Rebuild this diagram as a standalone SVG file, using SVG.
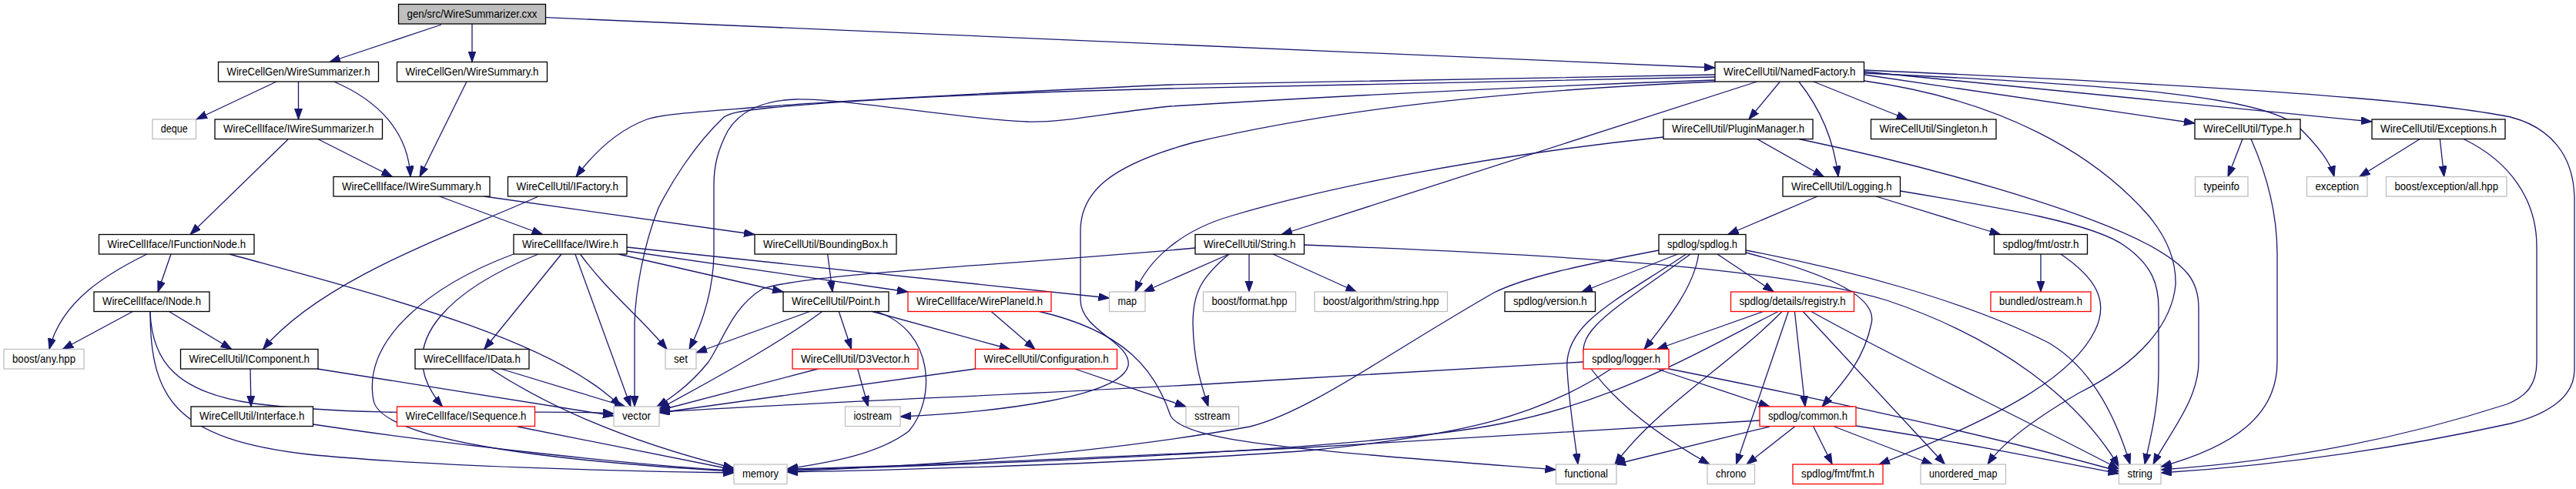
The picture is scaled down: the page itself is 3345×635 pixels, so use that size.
<svg xmlns="http://www.w3.org/2000/svg" width="3345" height="635" viewBox="0 0 3345 635">
<style>
rect{fill:#fff;stroke-width:1.3}
.n rect{stroke:#000}
.g rect{stroke:#bfbfbf}
.r rect{stroke:#ff0000}
.root rect{fill:#bfbfbf;stroke:#000}
text{font-family:"Liberation Sans",Arial,Helvetica,sans-serif;font-size:14.5px;text-anchor:middle;fill:#000}
#edges path{fill:none;stroke:#191970;stroke-width:1.3;marker-end:url(#a)}
</style>
<defs>
<marker id="a" markerUnits="userSpaceOnUse" markerWidth="15" markerHeight="11" refX="14" refY="5" orient="auto">
<path d="M0,0 L14,5 L0,10 z" fill="#191970" stroke="#191970" stroke-width="1"/>
</marker>
</defs>
<rect x="0" y="0" width="3345" height="635" style="fill:#fff;stroke:none"/>
<g id="edges">
<path d="M573,32 L428,80.5"/>
<path d="M613,31 L613,80.5"/>
<path d="M708.5,22.7 L2227,88"/>
<path d="M359,106 L255,155"/>
<path d="M387.5,106 L387.5,155"/>
<path d="M433.6,106 C490,130 530,170 533,229.5"/>
<path d="M606,106 L545,229.5"/>
<path d="M374,181 L247,304.5"/>
<path d="M413.6,181 L509.5,229.5"/>
<path d="M570.7,255 L704.6,304.5"/>
<path d="M628.7,255 L980,304.5"/>
<path d="M699.2,255 C600,300 420,360 341.5,453.5"/>
<path d="M190.8,330 C140,355 80,390 64,453.5"/>
<path d="M222,330 L205,379"/>
<path d="M298,330 C480,380 720,440 806,528"/>
<path d="M172.4,404.5 L81.3,453.5"/>
<path d="M219.5,404.5 L300.8,453.5"/>
<path d="M195,404.5 C197,470 230,510 330,524 C500,545 700,530 797,537"/>
<path d="M195,404.5 C195,520 230,570 400,590 C550,605 800,612 953,614"/>
<path d="M325,479 L326,528"/>
<path d="M412,479 L797,540"/>
<path d="M406.5,551 C600,580 850,606 953,611"/>
<path d="M650.4,479 L812,528"/>
<path d="M636.9,479 C700,520 800,570 953,608"/>
<path d="M672,554 L953,610"/>
<path d="M699,330 C600,370 500,440 574.5,528"/>
<path d="M729,330 L628.7,453.5"/>
<path d="M746.9,330 L819,528"/>
<path d="M666.7,330 C560,370 470,440 485,520 C495,570 700,598 953,612"/>
<path d="M753.4,330 C790,380 830,410 866,453.5"/>
<path d="M803,330 L1017,379"/>
<path d="M814,326 L1179,379"/>
<path d="M814,321 L1440.5,387"/>
<path d="M1074.7,330 L1081,379"/>
<path d="M1051.4,404.5 L904,458"/>
<path d="M1067.6,404.5 C1020,440 950,480 856,531"/>
<path d="M1089.3,404.5 L1105.6,453.5"/>
<path d="M1132.7,404.5 L1311.5,453.5"/>
<path d="M1138,404.5 C1215,430 1215,520 1180,560 C1140,590 1080,600 1022,609"/>
<path d="M1287.2,404.5 L1344,453.5"/>
<path d="M1349.5,404.5 C1460,430 1500,480 1520,540 C1540,575 1700,585 2020.5,610"/>
<path d="M1062.2,479 L856,533"/>
<path d="M1113.7,479 L1127.3,528"/>
<path d="M1266.6,479 L856,536"/>
<path d="M1395.5,479 L1540,528"/>
<path d="M2227,97 L1520,110 C1300,120 1100,130 1000,138 C900,146 860,148 840,155 C800,170 770,200 748,229.5"/>
<path d="M2227,104 C1900,115 1650,130 1520,138 C1440,146 1380,160 1333,158 C1250,155 1100,128 1034,129 C990,130 960,145 945,170 C932,195 927,215 927,240 L927,330 C926,380 912,420 895,453.5"/>
<path d="M2227,100 L1520,115 C1300,120 1100,130 1000,140 C960,144 948,147 940,152 C900,190 870,240 855,270 C835,320 825,380 824,420 L824,528"/>
<path d="M2227,106 C1900,120 1700,150 1550,185 C1440,215 1403,250 1403,300 L1403,390 C1404,430 1470,445 1465,475 C1455,515 1300,535 1169,541"/>
<path d="M2281.6,106 L1664,304.5"/>
<path d="M2160,178 C1900,205 1700,250 1600,280 C1530,300 1490,340 1474,379"/>
<path d="M2311.4,106 L2270.8,155"/>
<path d="M2335.8,106 C2355,130 2380,170 2387,229.5"/>
<path d="M2354.8,106 L2476.7,155"/>
<path d="M2281.6,180.5 L2368.3,229.5"/>
<path d="M2336,180.5 C2500,215 2700,270 2790,318 C2840,345 2855,365 2855,400 L2855,470 C2855,520 2815,565 2796,603"/>
<path d="M2467.5,248 C2600,270 2720,290 2760,320 C2795,345 2803,370 2803,400 L2803,480 C2803,530 2792,570 2785,603"/>
<path d="M2420.5,105 C2600,130 2720,200 2790,280 C2815,310 2826,340 2825,370 C2820,420 2780,470 2700,510 C2640,545 2600,575 2581,603"/>
<path d="M2420.5,91 C2900,112 3150,130 3260,152 C3310,165 3343,200 3343,260 L3343,480 C3343,520 3300,540 3260,550 C3100,585 2950,605 2806,614"/>
<path d="M2420.5,97 L2850,160"/>
<path d="M2420.5,93 L3080,158"/>
<path d="M2420.5,95 C2750,110 2940,125 2985,165 C3010,190 3026,210 3031,229.5"/>
<path d="M2912,180.5 L2893,229.5"/>
<path d="M2923,180.5 C2945,230 2957,280 2957,330 L2957,470 C2957,540 2900,580 2806,606"/>
<path d="M3142.3,180.5 L3063.7,229.5"/>
<path d="M3168.3,180.5 L3173.7,229.5"/>
<path d="M3199,180.5 C3260,210 3294,260 3294,320 L3294,470 C3294,500 3280,515 3255,525 C3100,575 2950,600 2806,610"/>
<path d="M2360,255 L2243.7,304.5"/>
<path d="M2436,255 L2597.6,304.5"/>
<path d="M2650,330 L2650,379"/>
<path d="M2676,330 C2720,360 2740,390 2720,430 C2690,490 2600,540 2440,603"/>
<path d="M2154,325 C2050,345 1980,360 1940,380 C1800,460 1700,535 1623,554 C1450,585 1250,603 1022,612"/>
<path d="M2178.6,330 L2054,379"/>
<path d="M2189.5,330 C2100,390 2030,420 2035,480 C2038,530 2045,570 2049,603"/>
<path d="M2195,330 C2100,400 2040,430 2060,470 C2100,530 2170,575 2220,603"/>
<path d="M2205.7,330 C2200,370 2170,410 2135,453.5"/>
<path d="M2230,330 L2303.3,379"/>
<path d="M2267,328 C2350,350 2440,380 2430,420 C2420,470 2390,500 2366,528"/>
<path d="M2267,325 C2400,350 2550,390 2660,445 C2720,480 2750,550 2766,603"/>
<path d="M1552,322 C1300,345 1050,355 990,375 C950,400 940,440 920,470 C900,495 880,512 853,528"/>
<path d="M1596,330 L1485,379"/>
<path d="M1622,330 L1622,379"/>
<path d="M1596,330 C1560,360 1549,380 1549,420 C1550,470 1560,500 1569,528"/>
<path d="M1653,330 L1761.3,379"/>
<path d="M1693.5,318 C2000,330 2300,345 2450,390 C2600,440 2700,520 2751.5,606"/>
<path d="M2289.8,404.5 L2151.5,453.5"/>
<path d="M2309,404.5 C2200,460 2100,520 1950,550 C1800,580 1400,600 1022,610"/>
<path d="M2314,404.5 C2250,470 2150,530 2097,603"/>
<path d="M2322.3,404.5 L2254.5,603"/>
<path d="M2330.4,404.5 L2344,528"/>
<path d="M2341.2,404.5 L2525.5,603"/>
<path d="M2352,404.5 C2450,460 2600,530 2751.5,609"/>
<path d="M2056,470 L1680,492 C1400,510 1100,520 856,535"/>
<path d="M2092,479 C2000,540 1900,565 1700,585 C1500,600 1200,610 1022,613"/>
<path d="M2151.5,479 L2297.9,528"/>
<path d="M2167,479 C2400,525 2600,570 2751.5,612"/>
<path d="M2285,546 L1680,582 C1400,595 1200,605 1022,609"/>
<path d="M2297.9,554 L2097,603"/>
<path d="M2330.4,554 L2268,603"/>
<path d="M2354.8,554 L2379.2,603"/>
<path d="M2381.9,554 L2509.3,603"/>
<path d="M2410,553 C2550,575 2650,595 2751.5,615"/>
</g>
<g id="n0" class="root"><rect x="517.5" y="5.5" width="191" height="25.5"/><text x="613" y="22.5" textLength="169" lengthAdjust="spacingAndGlyphs">gen/src/WireSummarizer.cxx</text></g>
<g id="n1" class="n"><rect x="283.5" y="80.5" width="208" height="25.5"/><text x="387.5" y="97.5" textLength="186" lengthAdjust="spacingAndGlyphs">WireCellGen/WireSummarizer.h</text></g>
<g id="n2" class="n"><rect x="515.5" y="80.5" width="195" height="25.5"/><text x="613" y="97.5" textLength="173" lengthAdjust="spacingAndGlyphs">WireCellGen/WireSummary.h</text></g>
<g id="n3" class="g"><rect x="198" y="155" width="56.5" height="25.5"/><text x="226.25" y="172" textLength="35" lengthAdjust="spacingAndGlyphs">deque</text></g>
<g id="n4" class="n"><rect x="279" y="155" width="217.5" height="25.5"/><text x="387.75" y="172" textLength="195.5" lengthAdjust="spacingAndGlyphs">WireCellIface/IWireSummarizer.h</text></g>
<g id="n5" class="n"><rect x="433" y="229.5" width="203" height="25.5"/><text x="534.5" y="246.5" textLength="181" lengthAdjust="spacingAndGlyphs">WireCellIface/IWireSummary.h</text></g>
<g id="n6" class="n"><rect x="659.5" y="229.5" width="154.5" height="25.5"/><text x="736.75" y="246.5" textLength="132.5" lengthAdjust="spacingAndGlyphs">WireCellUtil/IFactory.h</text></g>
<g id="n7" class="n"><rect x="128.5" y="304.5" width="201.5" height="25.5"/><text x="229.25" y="321.5" textLength="179.5" lengthAdjust="spacingAndGlyphs">WireCellIface/IFunctionNode.h</text></g>
<g id="n8" class="n"><rect x="667" y="304.5" width="147" height="25.5"/><text x="740.5" y="321.5" textLength="125" lengthAdjust="spacingAndGlyphs">WireCellIface/IWire.h</text></g>
<g id="n9" class="n"><rect x="122" y="379" width="150" height="25.5"/><text x="197" y="396" textLength="128" lengthAdjust="spacingAndGlyphs">WireCellIface/INode.h</text></g>
<g id="n10" class="g"><rect x="5" y="453.5" width="104" height="25.5"/><text x="57" y="470.5" textLength="82" lengthAdjust="spacingAndGlyphs">boost/any.hpp</text></g>
<g id="n11" class="n"><rect x="234.5" y="453.5" width="178.5" height="25.5"/><text x="323.75" y="470.5" textLength="156.5" lengthAdjust="spacingAndGlyphs">WireCellUtil/IComponent.h</text></g>
<g id="n12" class="n"><rect x="539" y="453.5" width="148" height="25.5"/><text x="613" y="470.5" textLength="126" lengthAdjust="spacingAndGlyphs">WireCellIface/IData.h</text></g>
<g id="n13" class="n"><rect x="248" y="528" width="158.5" height="25.5"/><text x="327.25" y="545" textLength="136.5" lengthAdjust="spacingAndGlyphs">WireCellUtil/Interface.h</text></g>
<g id="n14" class="r"><rect x="515.5" y="528" width="179" height="25.5"/><text x="605" y="545" textLength="157" lengthAdjust="spacingAndGlyphs">WireCellIface/ISequence.h</text></g>
<g id="n15" class="g"><rect x="797" y="528" width="59" height="25.5"/><text x="826.5" y="545" textLength="37" lengthAdjust="spacingAndGlyphs">vector</text></g>
<g id="n16" class="n"><rect x="980" y="304.5" width="184" height="25.5"/><text x="1072" y="321.5" textLength="162" lengthAdjust="spacingAndGlyphs">WireCellUtil/BoundingBox.h</text></g>
<g id="n17" class="n"><rect x="1552" y="304.5" width="141.5" height="25.5"/><text x="1622.75" y="321.5" textLength="119.5" lengthAdjust="spacingAndGlyphs">WireCellUtil/String.h</text></g>
<g id="n18" class="n"><rect x="1017" y="379" width="137" height="25.5"/><text x="1085.5" y="396" textLength="115" lengthAdjust="spacingAndGlyphs">WireCellUtil/Point.h</text></g>
<g id="n19" class="r"><rect x="1179" y="379" width="186" height="25.5"/><text x="1272" y="396" textLength="164" lengthAdjust="spacingAndGlyphs">WireCellIface/WirePlaneId.h</text></g>
<g id="n20" class="g"><rect x="1440.5" y="379" width="46.5" height="25.5"/><text x="1463.75" y="396" textLength="24.5" lengthAdjust="spacingAndGlyphs">map</text></g>
<g id="n21" class="g"><rect x="1562.5" y="379" width="120" height="25.5"/><text x="1622.5" y="396" textLength="98" lengthAdjust="spacingAndGlyphs">boost/format.hpp</text></g>
<g id="n22" class="g"><rect x="864" y="453.5" width="40" height="25.5"/><text x="884" y="470.5" textLength="18" lengthAdjust="spacingAndGlyphs">set</text></g>
<g id="n23" class="r"><rect x="1029" y="453.5" width="163" height="25.5"/><text x="1110.5" y="470.5" textLength="141" lengthAdjust="spacingAndGlyphs">WireCellUtil/D3Vector.h</text></g>
<g id="n24" class="r"><rect x="1266.5" y="453.5" width="184" height="25.5"/><text x="1358.5" y="470.5" textLength="162" lengthAdjust="spacingAndGlyphs">WireCellUtil/Configuration.h</text></g>
<g id="n25" class="g"><rect x="1097.5" y="528" width="71.5" height="25.5"/><text x="1133.25" y="545" textLength="49.5" lengthAdjust="spacingAndGlyphs">iostream</text></g>
<g id="n26" class="g"><rect x="1540" y="528" width="68.5" height="25.5"/><text x="1574.25" y="545" textLength="46.5" lengthAdjust="spacingAndGlyphs">sstream</text></g>
<g id="n27" class="g"><rect x="953" y="603" width="69" height="25.5"/><text x="987.5" y="620" textLength="47" lengthAdjust="spacingAndGlyphs">memory</text></g>
<g id="n28" class="n"><rect x="2227" y="80.5" width="193.5" height="25.5"/><text x="2323.75" y="97.5" textLength="171.5" lengthAdjust="spacingAndGlyphs">WireCellUtil/NamedFactory.h</text></g>
<g id="n29" class="n"><rect x="2160" y="155" width="194" height="25.5"/><text x="2257" y="172" textLength="172" lengthAdjust="spacingAndGlyphs">WireCellUtil/PluginManager.h</text></g>
<g id="n30" class="n"><rect x="2429.5" y="155" width="162.5" height="25.5"/><text x="2510.75" y="172" textLength="140.5" lengthAdjust="spacingAndGlyphs">WireCellUtil/Singleton.h</text></g>
<g id="n31" class="n"><rect x="2315" y="229.5" width="152.5" height="25.5"/><text x="2391.25" y="246.5" textLength="130.5" lengthAdjust="spacingAndGlyphs">WireCellUtil/Logging.h</text></g>
<g id="n32" class="n"><rect x="2154" y="304.5" width="113" height="25.5"/><text x="2210.5" y="321.5" textLength="91" lengthAdjust="spacingAndGlyphs">spdlog/spdlog.h</text></g>
<g id="n33" class="g"><rect x="1707" y="379" width="172.5" height="25.5"/><text x="1793.25" y="396" textLength="150.5" lengthAdjust="spacingAndGlyphs">boost/algorithm/string.hpp</text></g>
<g id="n34" class="n"><rect x="1954" y="379" width="117.5" height="25.5"/><text x="2012.75" y="396" textLength="95.5" lengthAdjust="spacingAndGlyphs">spdlog/version.h</text></g>
<g id="n35" class="r"><rect x="2247.5" y="379" width="160" height="25.5"/><text x="2327.5" y="396" textLength="138" lengthAdjust="spacingAndGlyphs">spdlog/details/registry.h</text></g>
<g id="n36" class="r"><rect x="2056" y="453.5" width="111" height="25.5"/><text x="2111.5" y="470.5" textLength="89" lengthAdjust="spacingAndGlyphs">spdlog/logger.h</text></g>
<g id="n37" class="r"><rect x="2285" y="528" width="125" height="25.5"/><text x="2347.5" y="545" textLength="103" lengthAdjust="spacingAndGlyphs">spdlog/common.h</text></g>
<g id="n38" class="g"><rect x="2020.5" y="603" width="78.5" height="25.5"/><text x="2059.75" y="620" textLength="56.5" lengthAdjust="spacingAndGlyphs">functional</text></g>
<g id="n39" class="g"><rect x="2217" y="603" width="61.5" height="25.5"/><text x="2247.75" y="620" textLength="39.5" lengthAdjust="spacingAndGlyphs">chrono</text></g>
<g id="n40" class="r"><rect x="2328" y="603" width="117" height="25.5"/><text x="2386.5" y="620" textLength="95" lengthAdjust="spacingAndGlyphs">spdlog/fmt/fmt.h</text></g>
<g id="n41" class="g"><rect x="2494" y="603" width="110.5" height="25.5"/><text x="2549.25" y="620" textLength="88.5" lengthAdjust="spacingAndGlyphs">unordered_map</text></g>
<g id="n42" class="n"><rect x="2850" y="155" width="137" height="25.5"/><text x="2918.5" y="172" textLength="115" lengthAdjust="spacingAndGlyphs">WireCellUtil/Type.h</text></g>
<g id="n43" class="n"><rect x="3080" y="155" width="173" height="25.5"/><text x="3166.5" y="172" textLength="151" lengthAdjust="spacingAndGlyphs">WireCellUtil/Exceptions.h</text></g>
<g id="n44" class="g"><rect x="2850.5" y="229.5" width="68.5" height="25.5"/><text x="2884.75" y="246.5" textLength="46.5" lengthAdjust="spacingAndGlyphs">typeinfo</text></g>
<g id="n45" class="g"><rect x="2995.5" y="229.5" width="78.5" height="25.5"/><text x="3034.75" y="246.5" textLength="56.5" lengthAdjust="spacingAndGlyphs">exception</text></g>
<g id="n46" class="g"><rect x="3098.5" y="229.5" width="156.5" height="25.5"/><text x="3176.75" y="246.5" textLength="134.5" lengthAdjust="spacingAndGlyphs">boost/exception/all.hpp</text></g>
<g id="n47" class="n"><rect x="2589.5" y="304.5" width="121" height="25.5"/><text x="2650" y="321.5" textLength="99" lengthAdjust="spacingAndGlyphs">spdlog/fmt/ostr.h</text></g>
<g id="n48" class="r"><rect x="2585" y="379" width="130" height="25.5"/><text x="2650" y="396" textLength="108" lengthAdjust="spacingAndGlyphs">bundled/ostream.h</text></g>
<g id="n49" class="g"><rect x="2751.5" y="603" width="54.5" height="25.5"/><text x="2778.75" y="620" textLength="32.5" lengthAdjust="spacingAndGlyphs">string</text></g>
</svg>
